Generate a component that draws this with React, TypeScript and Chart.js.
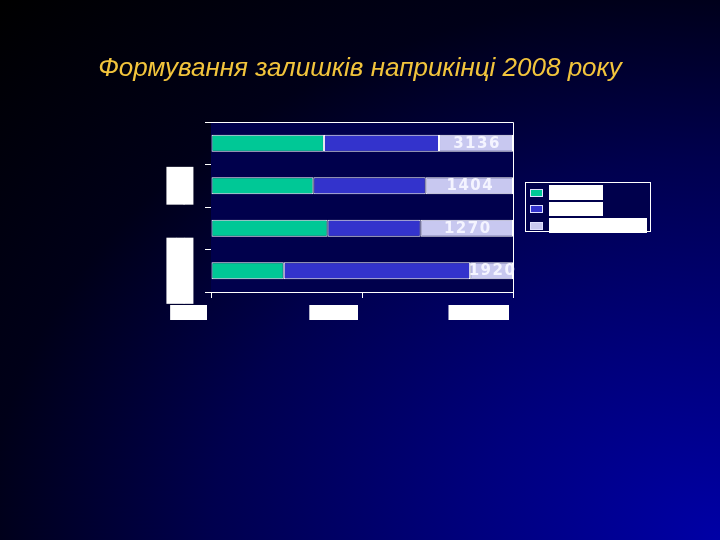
import React, { useEffect, useRef } from "react";
import { Chart, registerables } from "chart.js";

Chart.register(...registerables);

const titleText = "Формування залишків наприкінці 2008 року";
const categories = ["2005", "2006", "2007", "2008 рік"];
const seriesNames = ["Надходження", "Витрати", "Залишок на кінець року"];
const greenShare = [37.4, 33.9, 38.6, 24.1];
const blueShare = [38.1, 37.2, 30.8, 61.7];
const lightShare = [24.5, 28.9, 30.6, 14.2];
const remainderLabels = ["3136", "1404", "1270", "1920"];
const xTickValues = [0, 50, 100];

const colors = ["#00c896", "#3333cc", "#c8c8f0"];

const plotFrame = {
  id: "plotFrame",
  beforeDatasetsDraw(chart: any) {
    const { ctx, chartArea } = chart;
    ctx.save();
    ctx.fillStyle = "#00004c";
    ctx.fillRect(chartArea.left, chartArea.top, chartArea.right - chartArea.left, chartArea.bottom - chartArea.top);
    ctx.restore();
  },
  afterDatasetsDraw(chart: any) {
    const { ctx, chartArea } = chart;
    ctx.save();
    ctx.strokeStyle = "#ffffff";
    ctx.lineWidth = 1;
    ctx.beginPath();
    ctx.moveTo(chartArea.left, chartArea.top + 0.5);
    ctx.lineTo(chartArea.right + 0.5, chartArea.top + 0.5);
    ctx.lineTo(chartArea.right + 0.5, chartArea.bottom);
    ctx.stroke();
    // value labels on the last segment
    const meta = chart.getDatasetMeta(2);
    ctx.font = "bold 15px 'DejaVu Sans'";
    (ctx as any).letterSpacing = "1.5px";
    ctx.textAlign = "center";
    ctx.textBaseline = "middle";
    ctx.fillStyle = "#f4f4ff";
    meta.data.forEach((bar: any, i: number) => {
      const cx = (bar.base + bar.x) / 2 + 1;
      ctx.fillText(remainderLabels[i], cx, bar.y + 0.5);
    });
    ctx.restore();
  },
};

export default function App() {
  const ref = useRef<HTMLCanvasElement>(null);
  useEffect(() => {
    if (!ref.current) return;
    const chart = new Chart(ref.current, {
      type: "bar",
      data: {
        labels: categories,
        datasets: [greenShare, blueShare, lightShare].map((d, i) => ({
          label: seriesNames[i],
          data: d,
          backgroundColor: colors[i],
          borderColor: "#ffffff",
          borderWidth: 1,
          borderSkipped: false,
          categoryPercentage: 0.8,
          barPercentage: 0.5,
        })),
      },
      options: {
        indexAxis: "y",
        responsive: false,
        animation: false,
        events: [],
        layout: { padding: { left: 160, right: 207, top: 122, bottom: 200 } },
        plugins: { legend: { display: false }, tooltip: { enabled: false }, title: { display: false } },
        scales: {
          x: {
            stacked: true,
            min: 0,
            max: 100,
            afterBuildTicks: (s: any) => {
              s.ticks = xTickValues.map((v) => ({ value: v }));
            },
            afterFit: (s: any) => {
              s.height = 48;
            },
            border: { display: true, color: "#ffffff", width: 1 },
            grid: { drawOnChartArea: false, color: "#ffffff", tickLength: 6 },
            ticks: {
              callback: (v: any) => v + "%",
              align: "end",
              labelOffset: -4,
              padding: 8,
              color: "#ffffff",
              font: { family: "'DejaVu Sans'", size: 17, weight: "bold", lineHeight: 1 },
              showLabelBackdrop: true,
              backdropColor: "#ffffff",
              backdropPadding: { top: 1, bottom: -3, left: 8, right: 0 },
              maxRotation: 0,
              minRotation: 0,
            },
          },
          y: {
            stacked: true,
            afterFit: (s: any) => {
              s.width = 51;
            },
            border: { display: true, color: "#ffffff", width: 1 },
            grid: { drawOnChartArea: false, color: "#ffffff", tickLength: 6, offset: true },
            ticks: {
              autoSkip: false,
              callback: (_v: any, i: number) => (i % 2 === 1 ? categories[i] : ""),
              minRotation: 90,
              maxRotation: 90,
              crossAlign: "center",
              padding: -8,
              color: "#ffffff",
              font: { family: "'Liberation Sans'", size: 17, weight: "bold", lineHeight: 1.2 },
              showLabelBackdrop: true,
              backdropColor: "#ffffff",
              backdropPadding: { top: 3.3, bottom: 3.3, left: 0, right: 0 },
            },
          },
        },
      } as any,
      plugins: [plotFrame],
    });
    return () => chart.destroy();
  }, []);

  const legendRows = [
    { top: 2, h: 15, w: 54 },
    { top: 19, h: 14, w: 54 },
    { top: 35, h: 15, w: 98 },
  ];

  return (
    <div
      style={{
        position: "fixed",
        left: 0,
        top: 0,
        width: 720,
        height: 540,
        overflow: "hidden",
        background:
          "radial-gradient(ellipse farthest-corner at 100% 100%, #0000a6 0%, #00007c 25%, #00004e 50%, #000018 72%, #000000 100%)",
      }}
    >
      <canvas ref={ref} width={720} height={540} style={{ position: "absolute", left: 0, top: 0 }} />
      <div
        style={{
          position: "absolute",
          left: 0,
          top: 52,
          width: 720,
          textAlign: "center",
          fontFamily: "'Liberation Sans', Arial, sans-serif",
          fontStyle: "italic",
          fontSize: 26,
          color: "#f2c43c",
          whiteSpace: "nowrap",
        }}
      >
        {titleText}
      </div>
      <div
        style={{
          position: "absolute",
          left: 525,
          top: 182,
          width: 126,
          height: 50,
          boxSizing: "border-box",
          border: "1px solid #ffffff",
          background: "#00004c",
        }}
      >
        {seriesNames.map((name, i) => (
          <React.Fragment key={name}>
            <div
              style={{
                position: "absolute",
                left: 4,
                top: legendRows[i].top + Math.round((legendRows[i].h - 8) / 2),
                width: 13,
                height: 8,
                boxSizing: "border-box",
                border: "1px solid #e0e0ff",
                background: colors[i],
              }}
            />
            <div
              style={{
                position: "absolute",
                left: 23,
                top: legendRows[i].top,
                width: legendRows[i].w,
                height: legendRows[i].h,
                background: "#ffffff",
                color: "#ffffff",
                fontFamily: "'Liberation Sans', Arial, sans-serif",
                fontSize: 11,
                fontWeight: "bold",
                lineHeight: legendRows[i].h + "px",
                overflow: "hidden",
                whiteSpace: "nowrap",
              }}
            >
              {name}
            </div>
          </React.Fragment>
        ))}
      </div>
    </div>
  );
}
